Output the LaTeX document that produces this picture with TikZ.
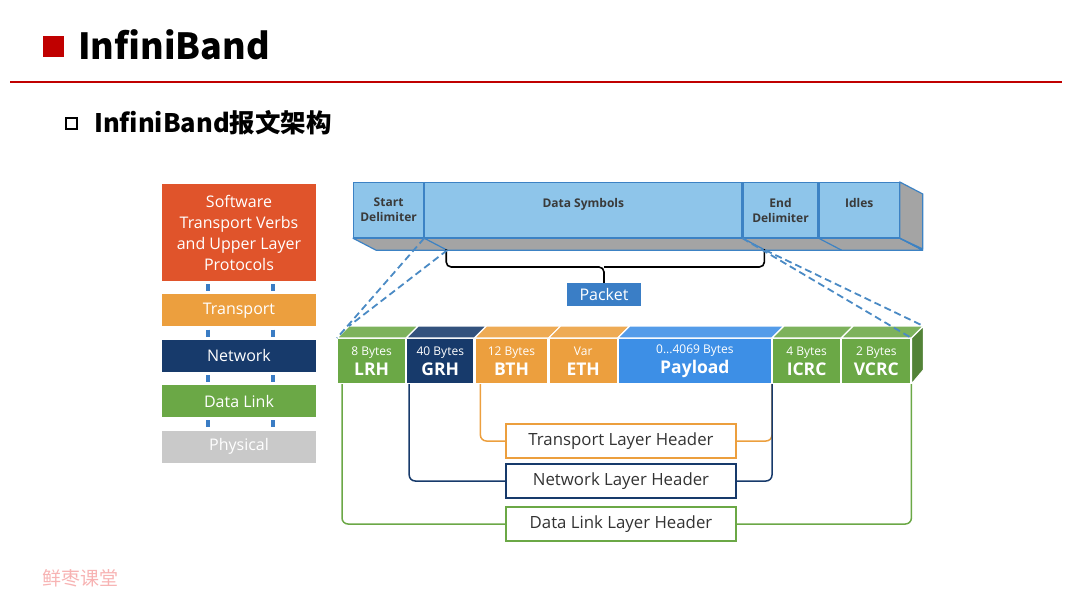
\documentclass[tikz,border=0pt]{standalone}
\usepackage{fontspec}
\setmainfont{Open Sans}
\newfontfamily\cjk{Noto Sans CJK SC}
\usetikzlibrary{positioning}

\definecolor{titlered}{HTML}{C00000}
\definecolor{swred}{HTML}{E0542B}
\definecolor{tporange}{HTML}{EC9F3E}
\definecolor{netnavy}{HTML}{173A6B}
\definecolor{dlgreen}{HTML}{6BA846}
\definecolor{physgrey}{HTML}{C9C9C9}
\definecolor{linkblue}{HTML}{3A7CC4}
\definecolor{barfill}{HTML}{8EC5EA}
\definecolor{barline}{HTML}{3C82C4}
\definecolor{sidegrey}{HTML}{A4A4A4}
\definecolor{payblue}{HTML}{3D8FE6}
\definecolor{packblue}{HTML}{3A7EC6}
\definecolor{dashblue}{HTML}{4A8AC4}
\definecolor{textgrey}{HTML}{3A3A3A}
\definecolor{markpink}{HTML}{F7B3B3}

\newcommand{\fieldlbl}[2]{{\fontsize{12}{20}\selectfont #1}\\{\bfseries\fontsize{17.5}{20}\selectfont #2}}

\begin{document}
\begin{tikzpicture}[x=1pt, y=-1pt,
    node distance=13pt,
    layer/.style={minimum width=154pt, inner sep=0pt, text=white, align=center, font=\fontsize{16}{21}\selectfont},
    linkbar/.style={draw=linkblue, line width=4pt, shorten <=3pt, shorten >=3pt},
    sym/.style={draw=barline, fill=barfill, line width=1.2pt, minimum height=55pt, inner sep=0pt, align=center, text=textgrey, font=\bfseries\fontsize{12}{15}\selectfont},
    field/.style={draw=white, line width=1.2pt, minimum height=45pt, inner sep=0pt, align=center, text=white, font=\fontsize{16}{20}\selectfont},
    hdr/.style={draw, line width=1.6pt, fill=white, minimum width=230pt, minimum height=34pt, text=black!80, font=\fontsize{16.8}{20}\selectfont},
    wire/.style={line width=1.5pt, rounded corners=6pt},
    ghost/.style={draw=dashblue, dash pattern=on 7pt off 4pt, line width=1.8pt},
    brace/.style={draw=black, line width=1.6pt, rounded corners=5pt}
]
\useasboundingbox (0,0) rectangle (1080,608);

% title
\node[fill=titlered, minimum size=21pt, inner sep=0pt] (titlesq) at (53,46) {};
\node[anchor=west, inner sep=0pt, font=\cjk\bfseries\fontsize{36}{40}\selectfont] (title) at (78,45) {InfiniBand};
\draw[titlered, line width=1.6pt] (10,82) -- (1062,82);
\node[draw, line width=2pt, minimum size=11pt, inner sep=0pt] (subsq) at (71,123) {};
\node[anchor=west, inner sep=0pt, font=\cjk\bfseries\fontsize{25.5}{27}\selectfont] (subtitle) at (94,123) {InfiniBand报文架构};

% layer stack
\node[layer, fill=swred, minimum height=97pt] (sw) at (239,232.5) {Software\\Transport Verbs\\and Upper Layer\\Protocols};
\node[layer, fill=tporange, minimum height=32pt, below=of sw] (tp) {Transport};
\node[layer, fill=netnavy, minimum height=32pt, below=of tp] (nw) {Network};
\node[layer, fill=dlgreen, minimum height=32pt, below=of nw] (dl) {Data Link};
\node[layer, fill=physgrey, minimum height=32pt, below=of dl] (ph) {Physical};
\foreach \a/\b in {sw/tp, tp/nw, nw/dl, dl/ph} {
  \draw[linkbar] ([xshift=-31pt]\a.south) -- ([xshift=-31pt]\b.north);
  \draw[linkbar] ([xshift=34pt]\a.south) -- ([xshift=34pt]\b.north);
}

% symbol stream
\node[sym, minimum width=70pt, anchor=north west] (sdl) at (353,182) {Start\\Delimiter};
\node[sym, minimum width=317pt, right=0pt of sdl] (dsym) {Data Symbols\\~};
\node[sym, minimum width=75pt, right=0pt of dsym] (edl) {End\\Delimiter};
\node[sym, minimum width=80pt, right=0pt of edl] (idl) {Idles\\~};
\filldraw[fill=sidegrey, draw=barline, line width=1.2pt, line join=round]
  (sdl.south west) -- (idl.south east) -- ++(23,12) -- ([shift={(23,12)}]sdl.south west) -- cycle;
\filldraw[fill=sidegrey, draw=barline, line width=1.2pt, line join=round]
  (idl.north east) -- ++(23,12) -- ++(0,55) -- (idl.south east) -- cycle;
\foreach \n in {sdl, edl, idl}
  \draw[barline, line width=1.2pt] (\n.south east) -- ++(23,12);
\draw[barline, line width=1.2pt] (dsym.south east) -- ++(23,12);

% packet brace
\node[fill=packblue, text=white, minimum width=74pt, minimum height=23pt, inner sep=0pt, font=\fontsize{16}{19}\selectfont] (packet) at (604,294.5) {Packet};
\coordinate (bmid) at (604,267);
\draw[brace] ([shift={(22,11)}]sdl.south east) |- (bmid) -- (packet.north);
\draw[brace] ([shift={(22,11)}]dsym.south east) |- (bmid);

% packet fields
\node[field, fill=dlgreen, minimum width=68pt, anchor=north west] (lrh) at (337,338) {\fieldlbl{8 Bytes}{LRH}};
\node[field, fill=netnavy, minimum width=67pt, right=0pt of lrh] (grh) {\fieldlbl{40 Bytes}{GRH}};
\node[field, fill=tporange, minimum width=73pt, right=0pt of grh] (bth) {\fieldlbl{12 Bytes}{BTH}};
\node[field, fill=tporange, minimum width=68pt, right=0pt of bth] (eth) {\fieldlbl{Var}{ETH}};
\node[field, fill=payblue, minimum width=153pt, right=0pt of eth] (pay) {\fieldlbl{0...4069 Bytes}{Payload}};
\node[field, fill=dlgreen, minimum width=68pt, right=0pt of pay] (icrc) {\fieldlbl{4 Bytes}{ICRC}};
\node[field, fill=dlgreen, minimum width=69pt, right=0pt of icrc] (vcrc) {\fieldlbl{2 Bytes}{VCRC}};
\foreach \f/\c in {lrh/dlgreen, grh/netnavy, bth/tporange, eth/tporange, pay/payblue, icrc/dlgreen, vcrc/dlgreen}
  \filldraw[fill=\c!88!white, draw=white, line width=1.2pt, line join=round]
    (\f.north west) -- ++(12,-12) -- ([shift={(12,-12)}]\f.north east) -- (\f.north east) -- cycle;
\filldraw[fill=dlgreen!78!black, draw=white, line width=1.2pt, line join=round]
  (vcrc.north east) -- ++(12,-12) -- ++(0,44) -- (vcrc.south east) -- cycle;

% zoom lines
\draw[ghost] (sdl.south east) -- (lrh.north west);
\draw[ghost] ([shift={(23,12)}]sdl.south east) -- ([shift={(12,-12)}]lrh.north west);
\draw[ghost] (dsym.south east) -- (vcrc.north east);
\draw[ghost] ([shift={(23,12)}]dsym.south east) -- ([shift={(12,-12)}]vcrc.north east);

% layer headers
\node[hdr, draw=tporange] (tlh) at (621,441) {Transport Layer Header};
\node[hdr, draw=netnavy] (nlh) at (621,481) {Network Layer Header};
\node[hdr, draw=dlgreen] (dlh) at (621,524) {Data Link Layer Header};
\draw[wire, tporange] ([xshift=6pt]bth.south west) |- (tlh.west);
\draw[wire, tporange] (tlh.east) -| (pay.south east);
\draw[wire, netnavy] ([xshift=3pt]grh.south west) |- (nlh.west);
\draw[wire, netnavy] (nlh.east) -| (icrc.south west);
\draw[wire, dlgreen] ([xshift=5pt]lrh.south west) |- (dlh.west);
\draw[wire, dlgreen] (dlh.east) -| (vcrc.south east);

% watermark
\node[anchor=west, inner sep=0pt, text=markpink, font=\cjk\fontsize{19}{21}\selectfont] (mark) at (42,578) {鲜枣课堂};
\end{tikzpicture}
\end{document}
